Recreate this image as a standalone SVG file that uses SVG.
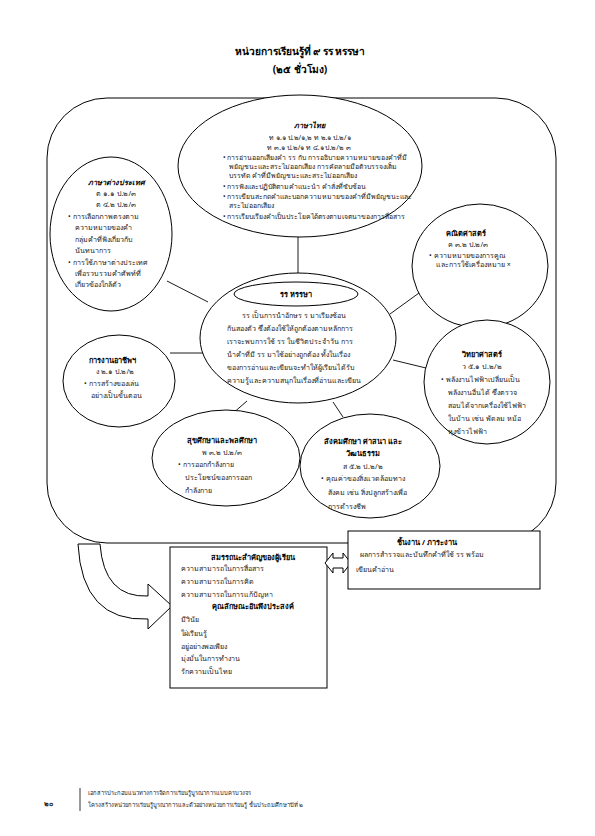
<svg xmlns="http://www.w3.org/2000/svg" width="595" height="836" viewBox="0 0 595 836">
<style>
text{font-family:"Noto Sans","DejaVu Sans",sans-serif;fill:#222;font-size:7.1px}
.t{font-size:10.2px;font-weight:bold;fill:#000;text-anchor:middle}
.h{font-weight:bold;font-size:7.4px;fill:#000;text-anchor:middle}
.c{text-anchor:middle}
.s{font-size:6.9px}
.sh{fill:#fff;stroke:#000;stroke-width:1}
.ln{fill:none;stroke:#000;stroke-width:0.9}
.f{font-size:5.8px}
</style>
<rect width="595" height="836" fill="#fff"/>
<g id="title">
<text class="t" x="300" y="55">หน่วยการเรียนรู้ที่ ๙ รร หรรษา</text>
<text class="t" x="300" y="73">(๒๕ ชั่วโมง)</text>
</g>
<g id="frame"><rect class="sh" x="47" y="98" width="509" height="445" rx="60" ry="60"/></g>
<g id="connectors">
<line class="ln" x1="298" y1="236" x2="298" y2="274"/>
<line class="ln" x1="167" y1="281" x2="208" y2="302"/>
<line class="ln" x1="390" y1="314" x2="419" y2="293"/>
<line class="ln" x1="170" y1="353" x2="204" y2="353"/>
<line class="ln" x1="393" y1="360" x2="426" y2="368"/>
<line class="ln" x1="247" y1="401" x2="232" y2="414"/>
<line class="ln" x1="333" y1="402" x2="343" y2="417"/>
</g>
<g id="thai">
<ellipse class="sh" cx="300" cy="166" rx="122" ry="71"/>
<text class="h" x="309" y="128" font-size="8.4" font-style="italic">ภาษาไทย</text>
<text class="c s" x="310" y="140">ท ๑.๑ ป.๒/๑,๒  ท ๒.๑ ป.๒/๑</text>
<text class="c s" x="309" y="150">ท ๓.๑ ป.๒/๑  ท ๔.๑ ป.๒/๒ ๓</text>
<text class="s" x="223" y="160">•  การอ่านออกเสียงคำ รร กับ  การอธิบายความหมายของคำที่มี</text>
<text class="s" x="229" y="169">พยัญชนะและสระไม่ออกเสียง  การคัดลายมือตัวบรรจงเต็ม</text>
<text class="s" x="229" y="178">บรรทัด คำที่มีพยัญชนะและสระไม่ออกเสียง</text>
<text class="s" x="223" y="189">•  การฟังและปฏิบัติตามคำแนะนำ  คำสั่งที่ซับซ้อน</text>
<text class="s" x="223" y="199">•  การเขียนสะกดคำและบอกความหมายของคำที่มีพยัญชนะและ</text>
<text class="s" x="229" y="208">สระไม่ออกเสียง</text>
<text class="s" x="223" y="219">•  การเรียบเรียงคำเป็นประโยคได้ตรงตามเจตนาของการสื่อสาร</text>
</g>
<g id="foreign">
<ellipse class="sh" cx="111" cy="234" rx="61" ry="77"/>
<text class="h" x="116" y="185" font-style="italic">ภาษาต่างประเทศ</text>
<text class="c" x="116" y="196">ต ๑.๑ ป.๒/๓</text>
<text class="c" x="116" y="207">ต ๔.๒ ป.๒/๓</text>
<text x="68" y="219">•  การเลือกภาพตรงตาม</text>
<text x="75" y="230">ความหมายของคำ</text>
<text x="75" y="242">กลุ่มคำที่ฟังเกี่ยวกับ</text>
<text x="75" y="253">นันทนาการ</text>
<text x="68" y="265">•  การใช้ภาษาต่างประเทศ</text>
<text x="75" y="276">เพื่อรวบรวมคำศัพท์ที่</text>
<text x="75" y="287">เกี่ยวข้องใกล้ตัว</text>
</g>
<g id="math">
<ellipse class="sh" cx="480" cy="266" rx="68" ry="62"/>
<text class="h" x="466" y="236">คณิตศาสตร์</text>
<text class="c" x="468" y="247">ค ๓.๒ ป.๒/๓</text>
<text x="429" y="258">•  ความหมายของการคูณ</text>
<text x="436" y="267">และการใช้เครื่องหมาย ×</text>
</g>
<g id="science">
<ellipse class="sh" cx="487" cy="382" rx="63" ry="62"/>
<text class="h" x="482" y="357">วิทยาศาสตร์</text>
<text class="c" x="482" y="369">ว ๕.๑ ป.๒/๒</text>
<text x="441" y="382">•  พลังงานไฟฟ้าเปลี่ยนเป็น</text>
<text x="448" y="395">พลังงานอื่นได้ ซึ่งตรวจ</text>
<text x="448" y="408">สอบได้จากเครื่องใช้ไฟฟ้า</text>
<text x="448" y="421">ในบ้าน เช่น พัดลม หม้อ</text>
<text x="448" y="434">หุงข้าวไฟฟ้า</text>
</g>
<g id="career">
<ellipse class="sh" cx="119" cy="381" rx="56" ry="46"/>
<text class="h" x="112" y="363">การงานอาชีพฯ</text>
<text class="c" x="115" y="374">ง ๒.๑ ป.๒/๒</text>
<text x="84" y="386">•  การสร้างของเล่น</text>
<text x="91" y="398">อย่างเป็นขั้นตอน</text>
</g>
<g id="health">
<ellipse class="sh" cx="226" cy="458" rx="74" ry="48"/>
<text class="h" x="222" y="443">สุขศึกษาและพลศึกษา</text>
<text class="c" x="222" y="455">พ ๓.๒ ป.๒/๓</text>
<text x="178" y="467">•  การออกกำลังกาย</text>
<text x="185" y="480">ประโยชน์ของการออก</text>
<text x="185" y="493">กำลังกาย</text>
</g>
<g id="social">
<ellipse class="sh" cx="370" cy="466" rx="70" ry="52"/>
<text class="h" x="363" y="444">สังคมศึกษา ศาสนา และ</text>
<text class="h" x="363" y="456">วัฒนธรรม</text>
<text class="c" x="363" y="469">ส ๕.๒ ป.๒/๒</text>
<text x="321" y="481">•  คุณค่าของสิ่งแวดล้อมทาง</text>
<text x="328" y="495">สังคม เช่น สิ่งปลูกสร้างเพื่อ</text>
<text x="328" y="509">การดำรงชีพ</text>
</g>
<g id="center">
<ellipse class="sh" cx="298" cy="338" rx="98" ry="65"/>
<ellipse class="sh" cx="296" cy="294" rx="62" ry="12" stroke-width="1.6"/>
<text class="h" x="296" y="297" font-size="8">รร หรรษา</text>
<text x="242" y="318">รร เป็นการนำอักษร  ร มาเรียงซ้อน</text>
<text x="227" y="331">กันสองตัว  ซึ่งต้องใช้ให้ถูกต้องตามหลักการ</text>
<text x="227" y="344">เราจะพบการใช้  รร  ในชีวิตประจำวัน การ</text>
<text x="227" y="357">นำคำที่มี รร มาใช้อย่างถูกต้อง  ทั้งในเรื่อง</text>
<text x="227" y="370">ของการอ่านและเขียนจะทำให้ผู้เรียนได้รับ</text>
<text x="227" y="383">ความรู้และความสนุกในเรื่องที่อ่านและเขียน</text>
</g>
<g id="arrow-curve">
<path class="sh" d="M78 544 Q82 622 148 619 L148 629 L172 606 L148 584 L148 596 Q104 598 100 544 Z"/>
</g>
<g id="competency">
<rect class="sh" x="170" y="547" width="157" height="141"/>
<text class="h" x="253" y="560">สมรรถนะสำคัญของผู้เรียน</text>
<text x="181" y="571">ความสามารถในการสื่อสาร</text>
<text x="181" y="584">ความสามารถในการคิด</text>
<text x="181" y="597">ความสามารถในการแก้ปัญหา</text>
<text class="h" x="253" y="609">คุณลักษณะอันพึงประสงค์</text>
<text x="181" y="622">มีวินัย</text>
<text x="181" y="636">ใฝ่เรียนรู้</text>
<text x="181" y="649">อยู่อย่างพอเพียง</text>
<text x="181" y="661">มุ่งมั่นในการทำงาน</text>
<text x="181" y="674">รักความเป็นไทย</text>
</g>
<g id="double-arrow">
<path class="sh" d="M325 563 L333 553 L333 558 L343 558 L343 553 L351 563 L343 573 L343 568 L333 568 L333 573 Z"/>
</g>
<g id="task">
<rect class="sh" x="348" y="531" width="192" height="58"/>
<text class="h" x="427" y="545">ชิ้นงาน / ภาระงาน</text>
<text x="360" y="557">ผลการสำรวจและบันทึกคำที่ใช้ รร  พร้อม</text>
<text x="356" y="572">เขียนคำอ่าน</text>
</g>
<g id="footer">
<text x="44" y="806" font-size="10" font-weight="bold" fill="#000">๒๐</text>
<line x1="80" y1="788" x2="80" y2="811" stroke="#000" stroke-width="0.8"/>
<text class="f" x="88" y="795">เอกสารประกอบแนวทางการจัดการเรียนรู้บูรณาการแบบครบวงจร</text>
<text class="f" x="88" y="807">โครงสร้างหน่วยการเรียนรู้บูรณาการและตัวอย่างหน่วยการเรียนรู้ ชั้นประถมศึกษาปีที่ ๒</text>
</g>
</svg>
